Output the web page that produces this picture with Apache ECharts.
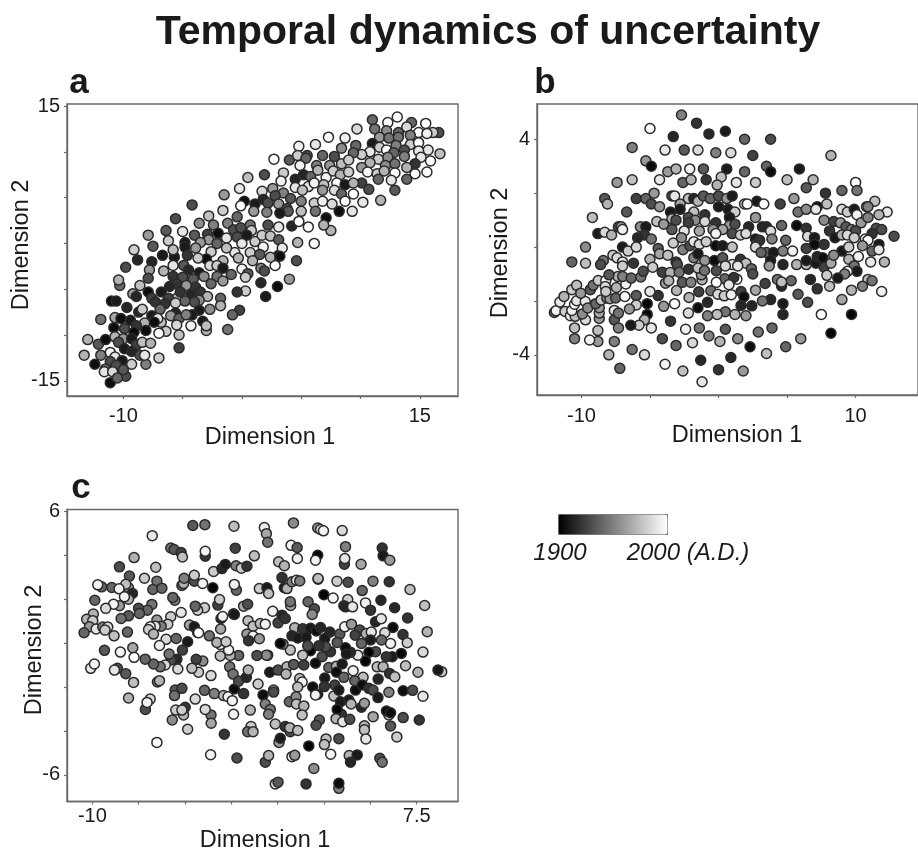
<!DOCTYPE html>
<html><head><meta charset="utf-8">
<style>html,body{margin:0;padding:0;background:#fff;overflow:hidden}#c{width:918px;height:854px;filter:blur(.45px)}</style>
<script src="https://cdn.jsdelivr.net/npm/echarts@6/dist/echarts.min.js"></script>
</head><body><div id="c"></div>
<script>
// Each point: [Dimension 1, Dimension 2, year (A.D.)]
const panelA=[[-13.3,-12.2,1970],[-13,-10.5,1970],[-12.4,-13.2,1905],[-12.1,-11,1935],[-11.9,-8.3,1945],[-11.5,-10.5,1905],[-11.1,-15.2,1905],[-10.8,-9.2,1905],[-11,-6.3,1905],[-10.6,-6.3,1910],[-10.3,-4.6,1940],[-10.4,-4,1970],[-9.8,-2.6,1930],[-8.8,-1.8,1915],[-9.1,-.7,1980],[-7.9,.9,1960],[-7.5,-.3,1935],[-6.4,1.4,1935],[-5.6,2.7,1930],[-4.2,4.2,1930],[-5,1.3,1990],[-6.2,.3,1980],[-3.6,2.2,1955],[-2.8,3,1975],[-1.6,3.6,1980],[-1.5,5.3,1960],[-2.4,2,1950],[-.2,6,1990],[.5,7.2,1975],[1.9,7.5,1930],[2.7,9.2,2000],[4,9.1,1935],[4.8,10.6,1995],[6.2,10.8,1990],[7.3,11.6,2000],[8.7,11.5,1995],[9.7,12.5,1985],[11,13.5,1940],[12.3,13.2,2000],[13.1,13.8,2000],[14.3,13.2,1940],[15.5,13.1,2000],[16.6,12.1,1930],[16.7,9.8,1975],[15.6,7.8,2000],[14.6,7.6,2000],[13.9,7,1940],[12.9,5.8,1935],[11.7,4.7,1970],[10.2,4.5,1990],[9.3,3.5,1990],[8.2,3.5,1905],[7.1,2.8,1905],[7.5,1.4,1970],[6.9,2,1970],[6.1,0,2000],[5.6,1.8,2000],[4.7,.1,1970],[4.6,-1.9,1930],[4,-3.9,1960],[3,-4.7,1905],[2,-5.8,1910],[1.6,-4.3,1915],[3.1,-1.3,1905],[2.8,-2.4,2000],[.3,-5.2,1980],[-.4,-5.3,1920],[-.2,-7.3,1925],[-.8,-7.8,1940],[-1.2,-9.4,1945],[-3,-9.5,1970],[-5.3,-11.4,1925],[-7,-12.5,1980],[-8.1,-13.2,1950],[-9.8,-14.5,1930],
[11.2,12.5,1945],[12.2,12.3,1955],[13.2,12.1,1940],[13.9,12.7,1985],[14.9,12.1,2000],[16.1,12.1,1980],[11.6,11.6,1960],[12.4,11.5,1945],[13.2,11.6,1945],[14.2,11.8,1950],[15.6,12,1995],[11,10.9,1910],[11.6,10.5,1980],[12.2,10.2,2000],[13,10.7,1950],[14.2,10.8,1980],[14.9,11,2000],[15.7,10.2,1990],[13.7,10.2,1930],[14.9,10.1,1990],[10.8,10,1990],[10.1,9.7,1980],[9.6,10.7,1940],[9.4,9.9,1940],[12.8,9.9,1940],[15.1,9.4,1990],[15.9,9,2000],[13.7,9.5,1950],[12.3,9.4,1955],[11.5,9.2,1980],[10.8,8.8,1970],[10.1,8.3,1960],[14.6,8.7,1920],[12.9,8.7,1945],[13.9,8.3,1970],[12.1,8.5,1955],[10.6,7.8,2000],[12.9,7.7,2000],[11.4,7.6,1980],[12,7.9,1970],[11.5,7,1940],[12.6,6.9,1990],[10.1,6.6,1925],[10.7,5.9,1930],
[8.4,10.4,1955],[7.8,9.5,1930],[6.8,9.6,1940],[5.5,9.6,1930],[4.7,9.6,1980],[5.4,9.3,1940],[4.9,8.5,1995],[6.3,8.5,1950],[7.4,8.5,1960],[8.4,8.7,1975],[9,9.1,1980],[3.5,7.7,1980],[4.5,7,1915],[5.2,7.5,1915],[5.8,7.3,1940],[6.4,8,1970],[7.1,7.2,1995],[7.7,7.9,1980],[8.3,7.5,1970],[9,7.8,1980],[3.3,6.8,1995],[2.6,6,1960],[1.7,5.7,1985],[3.5,5.5,1950],[4.5,6.1,1990],[5.6,6.2,1990],[6.1,6.6,1995],[6.9,6.4,1975],[8,6.6,2000],[8.7,6.4,1910],[9.4,6.6,1970],[5.1,5.8,1975],[6.8,5.8,1960],[7.8,5.8,1985],[8.4,5.4,1940],[9.4,5.4,2000],[4.1,4.9,1935],[2.8,5.2,1930],[1.8,4.8,1915],[.2,4.6,1905],[-.1,4.1,2000],[1.1,4.3,1910],[2.2,4.4,1930],[3.1,4.3,1960],[3.8,3.8,1930],[5,4.6,1950],[6.1,4.4,1980],[6.8,4.6,1995],[7.6,4.3,1985],[8.7,4.6,2000],[6.2,3.5,1945],[5,3.5,1975],[3.9,3.5,1935],[3.2,3.3,1910],[2.1,3.4,1950],[1,3.5,1960],[-.4,2.9,1940],[2.2,2,1930],[.7,2,1945],[4.2,1.9,1915],[4.8,2.4,2000],[3.1,1.8,1990],
[-1.2,2.2,1950],[-.7,1.5,1930],[-.1,1.7,1930],[.8,1.4,1980],[-2,1.1,1905],[-2.9,1,1925],[-4,.9,1935],[-2.8,.4,1960],[-3.5,.1,1960],[-4.8,.1,1910],[-4.8,-.4,1910],[-3.9,-.5,1960],[-2.1,0,1940],[-1.3,.6,1990],[-.4,.7,1930],[.4,.9,1910],[0,0,1990],[-.6,-1,1990],[-1.3,-.5,1975],[1.1,.2,1980],[1.7,.9,1980],[2.4,.8,1975],[3.1,.4,1935],[1.8,-.4,1995],[3.4,-.5,1990],[.7,-1,1980],[1.5,-1.2,1935],[2.4,-1.5,1970],[3.2,-1.4,1905],[.9,-1.9,1970],[-.3,-1.6,1970],[-1.6,-1.9,1970],[-2.6,-.9,1980],[-3,-1.7,1905],[-3.7,-1.6,1980],[-4.6,-1.3,1920],[-5.7,-1.5,1910],[-5.8,-.7,1975],[-6.7,-1.3,1910],[-7.6,-2,1915],[-7.8,-2.9,1960],[-6.6,-3,1970],[-5.8,-2.4,1990],[-4.9,-2.4,1935],[-4.5,-2.9,1915],[-3.6,-3.2,1910],[-2.7,-2.4,1985],[-2.1,-2.4,1980],[-1.6,-2.7,1910],[-.9,-3.4,1940],[0,-2.8,1995],[.5,-3.3,1935],[.3,-3.7,1980],[1.6,-2.7,1950],[1.9,-3,1930],[-7.9,-3.8,1930],[-8.6,-4.6,1975],[-5.8,-3.6,1920],[-5,-3.7,1930],[-4.1,-3.9,1935],[-3.2,-3.6,1955],[-2.1,-3.6,1945],[-1.6,-4.1,1960],[-2.6,-4.4,1940],[-3.9,-4.8,1920],[-4.7,-4.6,1960],[-5.5,-4.4,1920],[-6.1,-4.7,1915],[-7.9,-5.3,1905],[-6.8,-5.3,1910],[-7.6,-6,1925],[-9.2,-5.5,1960],[-8.9,-5.8,1915],[-5.5,-6,1970],[-6.2,-6,1925],[-5.2,-5.3,1920],[-4.3,-5.6,1915],[-3.5,-5.3,1920],[-2.9,-5.8,1970],[-3.6,-6.2,1955],[-4.8,-6.3,1940],[-4,-6.4,1930],[-1.8,-6,1940],[-1.8,-6.8,1970],[-5.6,-6.5,1980],[-6.5,-6.6,1920],[-7.3,-6.4,1920],[-2.7,-7.2,1955],[-3.6,-7.3,1910],[-4.2,-7.8,1910],[-5.6,-7.6,1915],[-6,-7.9,1960],[-5.3,-8.2,1940],[-4.7,-7.8,1950],[-6.9,-7.2,1940],[-5.5,-8.9,1985],[-4.3,-9,1995],[-3.3,-8.5,1910],[-3,-9,1975],[-5.3,-10,1975],[-6.4,-9.6,1980],[-7,-9.8,2000],[-6.8,-8.6,1975],
[-9.7,-7,1915],[-8.7,-7.5,1915],[-8.4,-7.2,1980],[-10.7,-8.1,1965],[-10.2,-8.2,1905],[-9.4,-8.4,1910],[-7.6,-7.9,1910],[-7.1,-8.2,1990],[-7.4,-8.6,1905],[-8.2,-8.7,1970],[-8.9,-9,1920],[-9.9,-9.3,1930],[-8.1,-9.5,1905],[-9.1,-9.7,1905],[-10.7,-10.2,1970],[-10,-10.4,1960],[-9.3,-10.4,1910],[-10.4,-10.8,1930],[-8.9,-11.1,1925],[-8.4,-10.8,1975],[-7.7,-10.9,1970],[-9.9,-11.5,1910],[-9.3,-11.8,1915],[-11.1,-11.9,1995],[-11.9,-12.2,1950],[-10.7,-12.4,1990],[-8.6,-12.2,1930],[-8.2,-12.2,1990],[-10.1,-12.8,1910],[-11.1,-12.9,1930],[-9.3,-13.2,1980],[-10.6,-13.3,1930],[-10,-13.8,1935],[-11.5,-13.7,1940],[-11.6,-14,1990],[-10.9,-14,1985],[-10.5,-14.7,1940]];

const panelB=[[-2.7,4.9,1950],[-1.6,4.6,1920],[-5,4.4,2000],[-3.3,4.1,1915],[-.7,4.2,1915],[.5,4.3,1910],[1.9,4,1940],[3.8,4,1930],[-6.3,3.7,1950],[-3.9,3.6,1990],[-2.5,3.6,1935],[-1.5,3.6,1985],[-.2,3.5,1950],[.9,3.5,1985],[2.5,3.4,1925],[8.2,3.4,1970],[-5.3,3.2,1960],[-4.9,3,1905],[-3.7,2.8,1960],[-3.1,2.9,1970],[-2.1,2.9,1995],[-1.1,2.9,1935],[.6,2.9,1910],[.2,2.6,1975],[1.9,2.8,1940],[3.5,3,1940],[3.8,2.8,1905],[5.9,2.9,1910],[-6.3,2.5,1975],[-7.4,2.4,1960],[-4.3,2.5,1990],[-2.6,2.4,1940],[-2,2.5,1970],[-.9,2.5,1920],[-.1,2.3,1970],[1.3,2.4,1990],[2.7,2.4,1980],[5,2.5,1975],[6.9,2.5,1970],[6.4,2.2,1935],[10,2.4,2000],[10.1,2.1,1945],[7.8,2,1920],[9,2.1,1940],[-8.3,1.8,1935],[-8.1,1.6,1970],[-6,1.8,1925],[-5.3,1.8,1940],[-4.7,2,1960],[-4.9,1.6,1930],[-4.3,1.5,1960],[-3.4,1.9,1930],[-3.2,1.9,1990],[-2.2,1.8,1975],[-1.8,1.8,1915],[-1.5,1.7,1970],[-1.1,1.9,1935],[-.6,1.8,1940],[0,1.9,1930],[.6,1.8,1960],[1,1.9,1910],[-2.8,1.6,1965],[-2.8,1.4,1910],[0,1.5,1910],[.7,1.4,1910],[1.2,1.3,1980],[1.9,1.6,1980],[2.1,1.6,2000],[2.8,1.7,1910],[3.3,1.6,2000],[4.5,1.6,1925],[5.5,1.8,1960],[5.8,1.3,1945],[6.4,1.4,1955],[7.2,1.5,1905],[7.1,1.4,1990],[7.9,1.6,1975],[9,1.4,1985],[9.4,1.3,1980],[9.9,1.4,1910],[10.1,1.2,1995],[10.8,1.5,1995],[11.4,1.7,1975],[10.9,1.5,1950],[12.3,1.3,1990],[11.7,1.2,1970],[-9.2,1.1,1975],[-6.7,1.3,1935],[-3.5,1.3,1910],[-3.4,1.05,1970],[-3.1,1,1930],[-1.8,1.3,1975],[-1,1.2,1920],[-2.2,1.1,1930],[-1.7,1,1955],[-1,.95,1985],[-2.2,.9,1925],[.8,1.1,1910],[-.2,.9,1920],[.8,.8,1960],[1.2,.85,1930],[2.2,.75,1915],[2.7,1.1,1960],[3.2,.75,1915],[3.5,.75,1915],[4.6,.8,1940],[3.8,.6,1985],[5.7,.8,1905],[6.4,.7,1920],[7.7,1,1955],[8.4,.95,1925],[8.9,.9,1960],[10.4,.9,1960],[9.3,.75,1935],[8.1,.6,1920],[9.7,.65,1950],[10,.6,1930],[10.9,1.1,1950],[11.5,.7,1930],[11.9,.65,1930],[11.2,.5,1920],[12.8,.4,1930],[-8.8,.5,1910],[-8.3,.55,1985],[-7.8,.45,1970],[-7.3,.75,1930],[-7.1,.75,1960],[-7,.65,1995],[-4.5,.95,1975],[-4,.85,1960],[-5.7,.75,1955],[-5.3,.75,1910],[-5.4,.45,1920],[-5.9,.35,1915],[-4.9,.3,1945],[-3.4,.65,1935],[-2.5,.6,1990],[-1.4,.6,1965],[-.4,.65,1960],[.3,.65,1965],[-.2,.5,1995],[1,.5,1930],[1.6,.45,1980],[2,.5,1985],[2.7,.3,1910],[3.9,.3,1950],[4.9,.25,1940],[6.5,.4,1985],[7,.35,1910],[8.5,.35,1910],[9,.45,1970],[9.4,.45,1985],[9.9,.35,1980],[10.7,.3,1990],[10.9,.25,2000],[11.7,.1,1910],[-9.7,0,1955],[-7,0,1910],[-6.6,-.15,1980],[-6,0,1985],[-4.4,-.05,1935],[-3.3,.15,1980],[-2.7,.35,1955],[-2.6,-.1,1950],[-2.1,.05,1930],[-1.8,.2,1990],[-1.4,.1,1985],[-.9,.2,1980],[-.2,.05,1905],[.3,.05,1910],[1,0,1975],[2.8,.15,1940],[3,.25,1920],[2.7,0,1985],[3.5,-.2,1940],[4,-.2,1910],[3.1,-.2,1940],[4.7,-.15,1950],[5.4,-.15,1995],[6.4,-.05,1925],[7.7,.1,1920],[7,.1,1905],[9,-.15,1910],[9.5,0,1980],[10.5,.05,1960],[11.2,-.15,1940],[11.7,-.1,1990],[-7.7,-.3,1980],[-7.4,-.4,1985],[-4.3,-.25,1965],[-3.7,-.3,1975],[-5,-.45,1970],[-10.7,-.55,1940],[-9.7,-.6,1975],[-8.4,-.5,1945],[-8.6,-.65,1930],[-7,-.55,1990],[-7,-.7,1980],[-6.2,-.6,1920],[-4.8,-.75,1980],[-3.1,-.55,1920],[-3,-.65,1930],[-1.8,-.4,1950],[-1.5,-.25,1910],[-1,-.5,1960],[-.3,-.5,1905],[.3,-.4,1935],[1.6,-.45,1920],[2,-.6,1975],[1,-.65,1990],[.5,-.7,1985],[1.4,-.7,1990],[2.4,-.8,1940],[2.5,-1,1930],[3.8,-.5,1910],[3.7,-.7,1960],[4.7,-.65,1915],[5.7,-.65,1970],[6.4,-.65,1975],[6.4,-.5,1910],[7.1,-.6,1910],[7.2,-.35,1915],[7.6,-.4,1905],[7.7,-.75,1925],[8.2,-.6,1965],[8.4,-.3,1955],[9.5,-.45,1970],[10.2,-.35,1995],[11.1,-.55,1990],[12.1,-.55,1970],[9.9,-.7,1945],[10.1,-.9,1910],[9.4,-.9,1995],[9.2,-1,1950],[8.7,-1.15,1910],[7.9,-1.05,1980],[8.1,-1.45,1975],[7.2,-1.55,1920],[6.7,-1.2,1915],[10.9,-1.2,1975],[11.2,-1.25,1945],[10.5,-1.45,1950],[9.7,-1.6,1970],[11.9,-1.65,1995],[9,-1.95,1965],[6.5,-2.05,1930],[5.8,-1.75,1935],[5.3,-1.25,1940],[4.6,-1.45,1915],[4.3,-1.2,1945],[4.6,-1.3,1975],[3.4,-1.35,1925],[2.7,-1.6,1965],[3.8,-1.95,1915],[3.2,-2,1945],[4.7,-2.1,1910],[4.7,-2.5,1915],[7.5,-2.5,2000],[9.7,-2.5,1902],[8.2,-3.2,1902],[6,-3.4,1960],[4.9,-3.7,1940],[3.5,-3.95,1975],[2.3,-3.7,1905],[1.4,-3.4,1955],[2.9,-3.15,1945],[3.9,-3,1940],[2,-2.55,1960],[1.2,-2.5,1970],[.5,-2.4,1945],[-.1,-2.5,1975],[-.8,-2.55,1950],[-1.5,-2.25,1905],[-.8,-2.05,1915],[-2.2,-2.45,1985],[-3.2,-2.1,2000],[-4,-2.2,1960],[-4.4,-1.8,1920],[-5,-1.65,1990],[-6,-1.8,1935],[-6,-2.15,1980],[-5.2,-2.1,1902],[-5.2,-2.5,1902],[-5.4,-2.7,1970],[-4.9,-3,1990],[-5.8,-2.9,1980],[-6.4,-2.9,1910],[-3.5,-2.75,1920],[-4.1,-3.4,1930],[-2.4,-3.05,1995],[-1.4,-3,1945],[-.7,-3.3,1950],[.5,-3.05,1935],[.1,-3.5,1970],[-1.9,-3.55,1985],[-3.1,-3.65,1940],[-5.4,-4,1985],[-6.3,-3.8,1945],[-7.6,-3.5,1950],[-8,-4,1970],[-7.2,-4.5,1940],[-3.9,-4.35,1995],[-2.6,-4.6,1975],[-1.3,-4.2,1915],[-1.2,-5,1990],[0,-4.55,1920],[.9,-4.1,1915],[1.8,-4.6,1960],[-8.8,-3.5,1960],[-9.4,-3.45,1995],[-10.5,-3.4,1950],[-10.5,-3,1975],[-9.7,-2.7,1985],[-8.8,-3.1,1975],[-8.7,-2.65,1960],[-8.7,-2.45,1965],[-8.7,-2.25,1960],[-7.6,-2.35,1990],[-7.6,-2.7,1935],[-7.3,-3,1950],[-7.3,-2.45,1945],[-6.5,-2.3,1960],
[-11.97,-2.43,1940],[-11.85,-2.36,1995],[-11.2,-2.39,1980],[-10.8,-2.55,1995],[-10.46,-2.57,1975],[-9.93,-2.48,1955],[-10.7,-2.35,1995],[-10.5,-2.12,2000],[-11.57,-2.04,1990],[-11.27,-1.83,1970],[-10.7,-1.58,1980],[-10.35,-1.42,1975],[-10.35,-1.99,1990],[-9.72,-2.02,1990],[-10.05,-1.71,1960],[-9.54,-2.26,1955],[-9.35,-1.58,1935],[-9.14,-1.42,1945],[-8.77,-1.24,1980],[-8.22,-1.24,2000],[-8.96,-2.1,1940],[-8.56,-1.96,1980],[-8.15,-1.89,1950],[-7.92,-1.92,1960],[-7.5,-1.89,1940],[-7.45,-1.5,1970],[-8.26,-1.46,1985],[-8.22,-1.65,1980],[-7.34,-1.09,1970],[-7.99,-1.03,1935],[-6.83,-1.83,2000],[-6.76,-1.37,1995],[-6.99,-1.09,1950],[-6.37,-1.15,1940],[-5.67,-1.11,1945],[-5.49,-.9,1930],[-4.1,-.93,1925],[-3.52,-.94,1970],[-2.87,-.93,1945],[-3.87,-1.34,1960],[-3.63,-1.25,1970],[-3.06,-1.61,1970],[-2.64,-1.31,1935],[-2.01,-1.31,1950],[-2.15,-1.87,1970],[-1.44,-1.66,1925],[-1.2,-1.21,1970],[-1.25,-1.03,1960],[-2.18,-.82,1920],[-1.5,-.78,1975],[-1.02,-.87,1945],[-.16,-.88,1930],[.46,-1.18,1940],[1.34,-1.19,2000],[1.11,-1.13,1920],[-.16,-1.31,2000],[.76,-1.4,1990],[-.56,-1.62,1945],[-.05,-1.75,1985],[.42,-1.81,1980],[.93,-1.77,1995],[1.64,-1.65,1925],[1.85,-1.84,1905],[1.64,-2.17,1915],[2.43,-2.18,1915]];

const panelC=[[-4.58,5.35,1935],[-3.93,5.39,1945],[-2.36,5.32,1975],[-.72,5.26,1995],[-.61,4.98,1965],[-.54,4.59,1945],[.85,5.47,1955],[2.16,5.24,1960],[2.31,5.17,1985],[2.47,5.11,1995],[3.48,5.12,1985],[-6.77,4.89,1990],[-5.77,4.33,1945],[-5.59,4.26,1935],[-5.21,4.12,1925],[-5.14,3.92,1975],[-3.91,3.95,1920],[-3.91,4.18,1995],[-2.29,4.32,1925],[-1.26,3.97,1975],[.72,4.45,1995],[1.05,4.35,1935],[3.66,4.39,1950],[5.64,4.33,1920],[5.69,3.97,1910],[6.05,3.77,1960],[2.16,4,1902],[2.04,3.77,1995],[1.06,3.85,1995],[3.6,3.59,1925],[3.62,3.85,1990],[4.5,3.59,1965],[-7.75,3.89,1970],[-8.54,3.47,1930],[-6.58,3.45,1975],[-8,3.05,1935],[-7.19,2.95,1980],[-6.52,2.82,1945],[-9.5,2.56,1940],[-9.71,2.65,1995],[-8.95,2.53,1940],[-8.05,2.52,1960],[-8.2,2.68,1975],[-8.56,2.47,1995],[-7.84,2.26,1915],[-8.05,2,1970],[-8.27,2.11,1995],[-6.74,2.44,1940],[-6.25,2.5,1940],[-9.87,1.95,1940],[-5.55,1.95,1950],[-5.66,2.08,1940],[-5.17,2.62,1940],[-5.08,2.71,1970],[-5.05,2.95,1950],[-4.5,2.82,1930],[-4.5,3.09,1980],[-4.05,2.71,1995],[-3.5,2.52,1902],[-3.46,3.26,1980],[-3.01,3.39,1915],[-2.83,3.58,1910],[-2.25,3.52,1950],[-1.96,3.41,1980],[-1.66,3.5,1920],[-2.23,2.41,1940],[-2.34,2.67,1995],[-.99,2.48,1980],[-.58,2.52,1910],[-.49,2.26,1975],[.05,3.7,1975],[.36,3.52,1970],[.23,2.98,1920],[.36,2.52,1910],[.5,2.48,1970],[.77,2.79,1950],[1.01,2.86,1990],[1.19,2.83,1950],[2.18,2.91,1910],[2.18,2.94,1975],[3.2,2.82,1980],[3.8,2.77,1930],[5.14,2.82,1950],[6.02,2.79,1920],[7.14,2.44,1975],[4.56,2.39,1940],[2.49,2.2,1902],[2.99,2.05,1995],[3.78,1.98,1980],[4.74,1.83,1995],[5.57,1.95,1915],[7.93,1.71,1975],[6.31,1.61,1915],[5.01,1.5,1920],[3.57,1.7,1920],[3.66,1.65,1915],[4.04,1.65,1990],[1.64,1.88,1940],[1.98,1.56,1930],[1.86,1.3,1955],[.7,1.71,1965],[.68,1.88,1945],[-.27,1.45,1995],[-1.84,1.68,1965],[-1.62,1.77,1930],[-3.23,1.73,1925],[-3.14,1.98,1980],[-3.95,1.61,1980],[-4.32,1.5,1980],[-4.45,1.68,1940],[-5.21,1.39,1990],[-6.79,1.76,1945],[-7.03,1.5,1940],[-7.51,1.58,1930],[-7.46,1.35,1940],[-8.05,1.24,1935],[-8.45,1.12,1945],[-8.54,1.7,1960],[-8.86,1.77,1995],[-9.28,1.58,1985],[-9.95,1.32,1970],[-10.31,1.08,1970],[-9.98,1.02,1980],[-10.16,.74,1960],[-10.45,.47,1940],[-9.8,.64,1990],[-9.44,.73,1950],[-9.17,.73,1985],[-9.32,.59,1980],[-8.83,.33,1975],[-8.11,.5,1940],[-6.52,1.05,1960],[-5.77,1.2,1980],[-5.93,.86,1980],[-6.29,.77,1950],[-6.61,.77,1990],[-6.88,.74,2000],[-6.97,.62,1980],[-6.7,.41,1970],[-4.76,.82,1965],[-4.5,.74,1910],[-4.32,.48,1910],[-4.27,.47,2000],[-3.69,.33,1945],[-5.48,.21,1940],[-4.86,.06,1910],[-6.02,.17,1985],[-3.06,1.12,1910],[-2.97,1.21,1995],[-2.38,1.33,1950],[-2.34,1.3,1910],[-3.08,.64,1965],[-1.6,1.02,1975],[-1.33,.77,1975],[-.94,.89,1975],[-.67,.86,1995],[-1.66,.41,1960],[-1.33,.32,1995],[-.99,.2,1960],[-1.57,.11,1920],[.02,.92,1925],[.23,1.27,1915],[.41,1.12,1920],[.92,.7,1970],[1.35,.65,1920],[.77,.33,1915],[1.08,.23,1910],[1.53,.26,1910],[1.77,.67,1910],[2.09,.55,1905],[2.31,.71,1915],[2.81,.5,1915],[3.35,.41,1935],[2.54,.21,1910],[3.62,.74,1995],[3.98,.86,1960],[4.43,.59,1930],[4.77,.44,1970],[5.05,.5,1990],[4.18,.36,1925],[4.52,-.02,1940],[5.01,.14,1910],[5.28,.97,1915],[5.59,1.11,1990],[6.22,.71,1905],[5.78,.47,1985],[6.76,.39,1920],[6.99,.02,1980],[8.07,.52,1970],[7.01,1.14,1920],[6.09,-.02,1995],[5.6,.14,1940],[7.84,-.41,1985],[6.67,-.47,1902],[6.18,-.62,1910],[5.86,-.62,1920],[5.28,-.39,1930],[4.92,-.42,1902],[4.74,-.82,1902],[4.32,-.55,1990],[3.93,-.42,1915],[3.66,-.21,1905],[3.71,-.5,1910],[3.21,.03,1935],[2.85,-.39,1920],[2.58,-.17,1930],[2.4,-.62,1930],[2.22,-.12,1920],[2.04,-.92,1905],[1.77,-.35,1902],[1.62,-.12,1930],[1.35,-.55,1975],[.68,-.32,1975],[.29,-.05,1950],[.14,-.02,1902],[-.54,-.55,1985],[-.61,-.55,1955],[-1.12,-.56,1930],[-2.11,-.56,1940],[-2.56,-.56,1970],[-2.65,-.32,1995],[-3.1,-.06,1995],[-3.28,.03,1970],[-2.79,.06,1980],[-3.1,-.59,1975],[-4.04,-.82,1955],[-4.4,-.74,1925],[-4.27,-1.33,1980],[-4.63,-1.15,1975],[-3.6,-1.48,1985],[-5.14,-.32,1925],[-5.44,-.74,1915],[-5.75,-.77,1930],[-5.39,-1.18,1985],[-5.86,-.5,1945],[-6.38,-.11,1995],[-6.07,-1,1985],[-6.34,-1.08,1945],[-6.7,-.95,1940],[-7.15,-.73,1940],[-7.75,-.65,2000],[-7.82,-.21,1965],[-8.49,-.41,1995],[-9.35,-.33,1935],[-10.09,-1.15,1990],[-9.89,-.95,1995],[-8.65,-1.15,1930],[-8.81,-1.23,1990],[-8.2,-1.39,1935],[-7.78,-1.79,1975],[-6.49,-1.77,1945],[-6.38,-1.71,1970],[-8.05,-2.5,1970],[-7.14,-3.02,1930],[-6.88,-2.55,1985],[-7.05,-2.7,1995],[-5.53,-2.14,1935],[-5.17,-2.06,1930],[-5.57,-2.39,1945],[-4.45,-2.55,1985],[-4.99,-2.92,1920],[-5.08,-3.27,1970],[-5.5,-3.05,1980],[-5.17,-3.05,1980],[-5.69,-3.5,1955],[-4.86,-3.92,1980],[-3.6,-3.27,1945],[-3.91,-3.02,1985],[-3.59,-3.65,1965],[-3.95,-2.15,1940],[-3.42,-2.3,1950],[-2.92,-2.39,1975],[-2.68,-2.44,1995],[-2.45,-2.62,1995],[-2.38,-3.24,1995],[-2.34,-2.09,1905],[-1.84,-2.3,1920],[-2.59,-1.08,1945],[-2.41,-1.41,1945],[-2.11,-1.73,1930],[-1.69,-1.56,1915],[-1.59,-1.23,1970],[-1.06,-1.86,1980],[-.79,-2.36,1905],[-.22,-2.14,1975],[-.22,-2.23,1930],[-.67,-2.77,1950],[-.4,-3.02,1945],[-.49,-3.24,1950],[-1.48,-3.05,1970],[-.43,-1.33,1910],[.02,-1.23,1930],[.5,-1.08,1970],[.86,-.97,1935],[.45,-1.41,1970],[1.41,-1,1925],[2.76,-1.11,1940],[3.17,-1.05,1970],[3.48,-.95,1910],[3.17,-1.33,1905],[4.07,-1.26,1995],[4.61,-1.56,1975],[5.37,-1.08,1975],[5.69,-1.08,1970],[6.04,-1.38,1920],[6.32,-1.53,1975],[6.9,-1.03,1975],[7.57,-1.33,1970],[8.85,-1.3,1980],[8.65,-1.23,1910],[1.19,-1.61,1975],[1.32,-1.77,1995],[1.08,-2,1975],[1.89,-2,1905],[2.54,-1.59,1910],[2.52,-1.98,1920],[2.16,-2.33,1910],[2.04,-2.36,1995],[3.03,-2.41,1975],[3.08,-1.91,1925],[3.57,-1.56,1940],[3.3,-2.14,1910],[4.2,-2.14,1905],[4.16,-1.71,1940],[4.56,-1.91,1905],[4.92,-2.06,1920],[5.14,-2.14,1930],[5.42,-1.64,1915],[5.41,-2.48,1910],[6,-2.24,1950],[6.77,-2.17,1905],[7.28,-2.15,1930],[7.84,-2.42,1990],[3.39,-2.67,1910],[3.84,-2.59,1910],[3.96,-2.77,1970],[4.52,-2.92,1915],[4.68,-2.74,1960],[6,-3.27,1975],[5.87,-3.09,1905],[6.09,-3.17,1905],[3.44,-3.24,1920],[3.21,-3.02,1902],[3.15,-3.44,1970],[3.51,-3.58,1990],[3.89,-3.47,1930],[5.15,-3.35,1965],[6.77,-3.39,1930],[7.64,-3.5,1920],[6.09,-3.77,1935],[4.68,-3.76,1970],[4.68,-3.95,1975],[4.76,-4.36,1990],[6.43,-4.27,1980],[3.3,-4.35,1930],[.63,-2.67,1940],[.99,-2.44,1955],[1.01,-2.77,1975],[1.41,-2.86,1970],[1.32,-3.27,1975],[.41,-3.8,1920],[.68,-4.03,1930],[.65,-3.85,1970],[1.08,-3.98,1975],[-.13,-3.68,1975],[-1.44,-3.8,1980],[-1.62,-4.03,1945],[-1.33,-4.03,1970],[2.25,-3.5,1935],[2.07,-3.74,1930],[-2.88,-4.15,1920],[-6.52,-4.52,2000],[.07,-4.52,1960],[.14,-4.33,1910],[1.68,-4.68,1902],[2.61,-4.36,1975],[2.52,-4.62,1975],[-3.62,-5.08,1995],[-2.2,-5.23,1930],[-.67,-5.42,1930],[-.49,-5.12,1970],[.77,-5.17,1990],[.92,-5.11,1960],[2.86,-5.06,1995],[3.86,-5.12,1970],[3.93,-5.42,1915],[4.29,-5.09,1910],[5.51,-5.24,1930],[5.64,-5.42,1945],[1.95,-5.71,1955],[-.13,-6.41,1985],[.02,-6.33,1935],[1.53,-6.41,1920],[3.3,-6.61,1950],[3.3,-6.38,1905]];

const ticksAx=[-10,-5,0,5,10,15], ticksAy=[-15,-10,-5,0,5,10,15];
const ticksBx=[-10,-5,0,5,10], ticksBy=[-4,-2,0,2,4];
const ticksCx=[-10,-7.5,-5,-2.5,0,2.5,5,7.5], ticksCy=[-6,-4,-2,0,2,4,6];
const labelsAx=[-10,15], labelsAy=[-15,15], labelsBx=[-10,10], labelsBy=[-4,4], labelsCx=[-10,7.5], labelsCy=[-6,6];

const frame='#6a6a6a', ink='#1a1a1a', SANS='"Liberation Sans",Arial,sans-serif';
function ax(margin,idx,min,max,ticks,labels){
  return {type:'value',gridIndex:idx,min,max,splitLine:{show:false},
    axisLine:{show:true,onZero:false,lineStyle:{color:frame,width:1.4}},
    axisTick:{show:true,length:3,customValues:ticks,lineStyle:{color:frame,width:1.2}},
    axisLabel:{show:true,customValues:labels,margin,color:ink,fontFamily:SANS,fontSize:20,hideOverlap:false,showMinLabel:true,showMaxLabel:true}};
}
function txt(text,x,y,font,rotation){
  return {type:'text',x,y,rotation:rotation||0,silent:true,style:{text,font,fill:ink,textAlign:'center',textVerticalAlign:'middle'}};
}
function series(data,i){
  return {type:'scatter',xAxisIndex:i,yAxisIndex:i,data,encode:{x:0,y:1},symbolSize:10,silent:true,animation:false,
    itemStyle:{borderColor:'#2a2a2a',borderWidth:1.5,opacity:1}};
}
const label='23.5px '+SANS, head='bold 35px '+SANS;
const chart=echarts.init(document.getElementById('c'),null,{renderer:'canvas'});
chart.setOption({
  animation:false,backgroundColor:'#fff',
  grid:[
    {left:67,top:104,width:391,height:292,show:true,borderColor:frame,borderWidth:1.4,containLabel:false},
    {left:537,top:104,width:400,height:291,show:true,borderColor:frame,borderWidth:1.4,containLabel:false},
    {left:67,top:509.5,width:391,height:292,show:true,borderColor:frame,borderWidth:1.4,containLabel:false}],
  xAxis:[ax(10,0,-14.75,18.22,ticksAx,labelsAx),ax(11,1,-13.24,14.55,ticksBx,labelsBx),ax(5,2,-11.37,9.73,ticksCx,labelsCx)],
  yAxis:[ax(7,0,-16.66,15.22,ticksAy,labelsAy),ax(7,1,-5.49,5.31,ticksBy,labelsBy),ax(7,2,-7.21,6.08,ticksCy,labelsCy)],
  visualMap:{type:'continuous',seriesIndex:[0,1,2],dimension:2,min:1900,max:2000,orient:'horizontal',
    left:558,top:514,itemWidth:20,itemHeight:109,padding:0,calculable:false,realtime:false,showLabel:false,hoverLink:false,
    inRange:{color:['#000000','#ffffff']},borderColor:frame,borderWidth:1,text:null},
  series:[series(panelA,0),series(panelB,1),series(panelC,2)],
  graphic:[
    txt('Temporal dynamics of uncertainty',488,33,'bold 41px '+SANS),
    txt('a',79,83,head),txt('b',545,83,head),txt('c',81,488,head),
    txt('Dimension 1',270,438,label),txt('Dimension 2',22,245,label,Math.PI/2),
    txt('Dimension 1',737,436,label),txt('Dimension 2',501,253,label,Math.PI/2),
    txt('Dimension 1',265,841,label),txt('Dimension 2',35,650,label,Math.PI/2),
    txt('1900',560,553,'italic 24px '+SANS),txt('2000 (A.D.)',688,553,'italic 24px '+SANS)
  ]
});
</script></body></html>
